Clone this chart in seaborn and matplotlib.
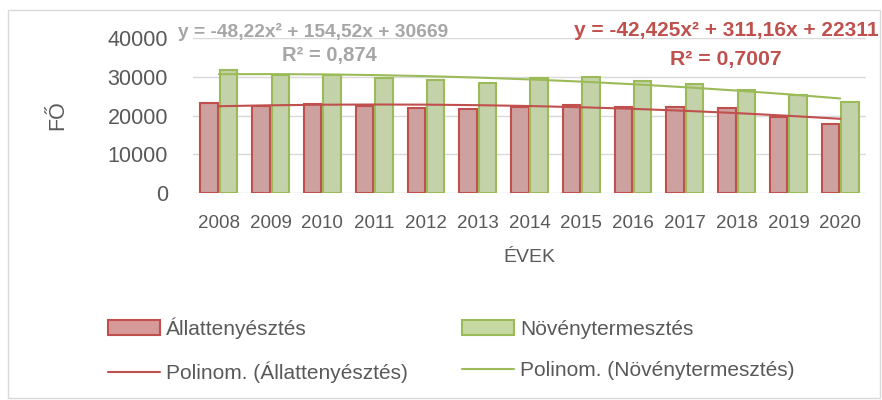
import numpy as np
import pandas as pd
import seaborn as sns
import matplotlib.pyplot as plt
from matplotlib.patches import Rectangle, Patch
from matplotlib.lines import Line2D

sns.set_style("white")
plt.rcParams['font.family'] = ['Liberation Sans', 'DejaVu Sans']

years = ["2008", "2009", "2010", "2011", "2012", "2013", "2014",
         "2015", "2016", "2017", "2018", "2019", "2020"]
allat = [23300, 22400, 22850, 22400, 22000, 21700, 22250,
         22600, 22100, 22250, 21900, 19650, 17900]
noveny = [31750, 30550, 30400, 29800, 29100, 28500, 29700,
          29850, 28900, 28050, 26650, 25250, 23550]
eq_allat = ["y = -42,425x² + 311,16x + 22311", "R² = 0,7007"]
eq_noveny = ["y = -48,22x² + 154,52x + 30669", "R² = 0,874"]

red_edge, red_fill = "#c0504d", "#d69a99"
green_edge, green_fill = "#9bbb59", "#c6d9a2"
txt = "#595959"

df = pd.DataFrame({
    "year": years * 2,
    "value": allat + noveny,
    "kind": ["Állattenyésztés"] * len(years) + ["Növénytermesztés"] * len(years),
})

fig = plt.figure(figsize=(8.82, 4.0), dpi=100)
fig.patches.append(Rectangle((0.009, 0.005), 0.989, 0.97, transform=fig.transFigure,
                             fill=False, edgecolor="#d9d9d9", lw=1))
ax = fig.add_axes([0.2188, 0.5175, 0.7631, 0.3875])

sns.barplot(data=df, x="year", y="value", hue="kind", ax=ax,
            palette=[red_fill, green_fill], width=0.75, gap=0.1,
            legend=False, zorder=3)
for bar, ec in zip(ax.patches, [red_edge] * len(years) + [green_edge] * len(years)):
    bar.set_edgecolor(ec)
    bar.set_linewidth(1.5)

# polynomial trend lines (order 2), as in Excel with x = 1..n
xs = np.arange(1, len(years) + 1)
for vals, col in [(allat, red_edge), (noveny, green_edge)]:
    p = np.polyfit(xs, vals, 2)
    ax.plot(xs - 1, np.polyval(p, xs), color=col, lw=1.5, zorder=4)

ax.set_ylim(0, 40000)
ax.set_xlim(-0.5, len(years) - 0.5)
ax.set_yticks(range(0, 40001, 10000))
ax.yaxis.grid(True, color="#d9d9d9", lw=1)
ax.set_axisbelow(True)
for s in ax.spines.values():
    s.set_visible(False)
ax.tick_params(axis="both", length=0, colors=txt)
ax.tick_params(axis="x", labelsize=13.5, pad=16)
ax.tick_params(axis="y", labelsize=15.5, pad=18)
ax.set_xlabel("ÉVEK", fontsize=14, color=txt, labelpad=12)
ax.set_ylabel("FŐ", fontsize=15.5, color=txt, labelpad=28)

fig.text(313 / 882, 1 - 32 / 400, eq_noveny[0], ha="center", va="center",
         fontsize=13.8, fontweight="bold", color="#a6a6a6")
fig.text(329 / 882, 1 - 55.5 / 400, eq_noveny[1], ha="center", va="center",
         fontsize=14.5, fontweight="bold", color="#a6a6a6")
fig.text(726 / 882, 1 - 31 / 400, eq_allat[0], ha="center", va="center",
         fontsize=15, fontweight="bold", color=red_edge)
fig.text(726 / 882, 1 - 59 / 400, eq_allat[1], ha="center", va="center",
         fontsize=15.3, fontweight="bold", color=red_edge)

handles = [
    Patch(facecolor=red_fill, edgecolor=red_edge, lw=1.5),
    Line2D([], [], color=red_edge, lw=1.5),
    Patch(facecolor=green_fill, edgecolor=green_edge, lw=1.5),
    Line2D([], [], color=green_edge, lw=1.5),
]
labels = ["Állattenyésztés", "Polinom. (Állattenyésztés)",
          "Növénytermesztés", "Polinom. (Növénytermesztés)"]
fig.legend(handles, labels, ncol=2, loc="center left", bbox_to_anchor=(0.122, 0.125),
           frameon=False, fontsize=15, labelcolor=txt, handlelength=2.5,
           handleheight=0.72, handletextpad=0.3, columnspacing=2.6,
           labelspacing=1.1, borderpad=0, borderaxespad=0)

fig.savefig("out.png", dpi=100)
